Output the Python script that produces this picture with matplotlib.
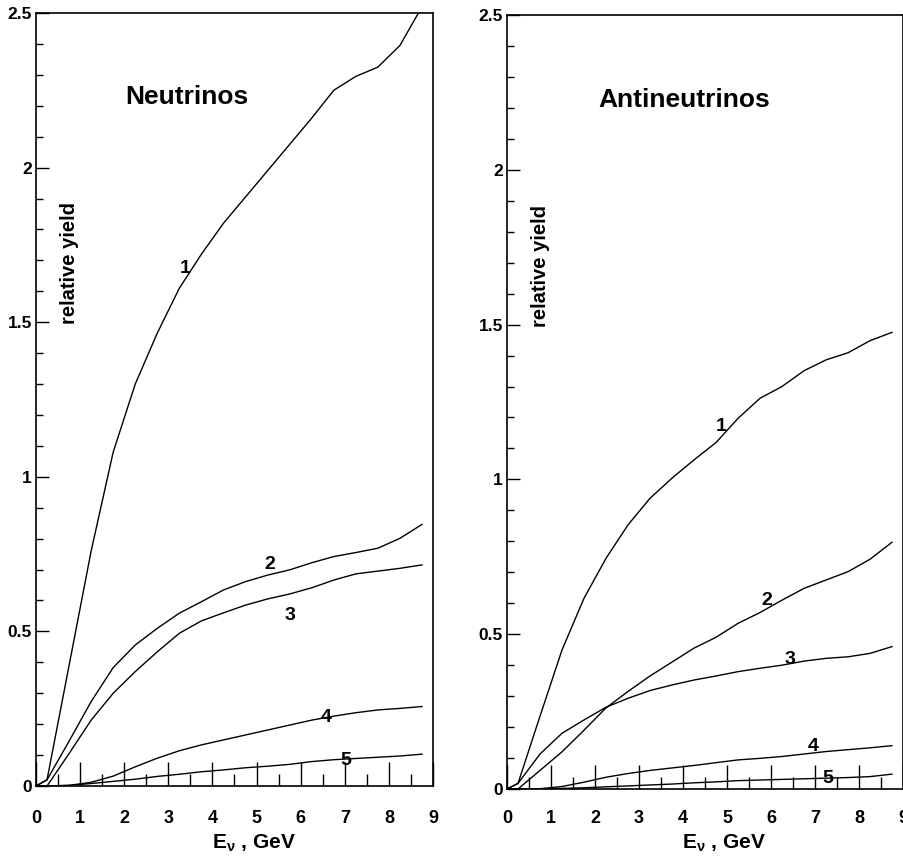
import matplotlib
matplotlib.use("Agg")
import matplotlib.pyplot as plt
from matplotlib.ticker import MultipleLocator, FixedLocator

plt.rcParams['font.family'] = ['Liberation Sans', 'DejaVu Sans']
plt.rcParams['font.weight'] = 'bold'
plt.rcParams['mathtext.default'] = 'regular'

# ---- data ----
energy = [0, 0.25, 0.75, 1.25, 1.75, 2.25, 2.75, 3.25, 3.75, 4.25,
          4.75, 5.25, 5.75, 6.25, 6.75, 7.25, 7.75, 8.25, 8.75]

nu_1 = [0, 0.02, 0.39, 0.76, 1.08, 1.30, 1.465, 1.61, 1.72, 1.82,
        1.905, 1.99, 2.075, 2.16, 2.25, 2.295, 2.325, 2.395, 2.52]
nu_2 = [0, 0.02, 0.145, 0.273, 0.383, 0.456, 0.51, 0.559, 0.596, 0.634,
        0.661, 0.682, 0.699, 0.722, 0.742, 0.755, 0.769, 0.801, 0.846]
nu_3 = [0, 0, 0.105, 0.213, 0.30, 0.37, 0.434, 0.494, 0.534, 0.56,
        0.585, 0.605, 0.621, 0.641, 0.666, 0.686, 0.695, 0.704, 0.715]
nu_4 = [0, 0, 0.002, 0.012, 0.032, 0.062, 0.09, 0.114, 0.133, 0.149,
        0.165, 0.181, 0.197, 0.213, 0.226, 0.237, 0.246, 0.251, 0.257]
nu_5 = [0, 0, 0.002, 0.008, 0.015, 0.022, 0.031, 0.038, 0.046, 0.052,
        0.059, 0.064, 0.07, 0.079, 0.085, 0.089, 0.093, 0.097, 0.103]

anu_1 = [0, 0.018, 0.235, 0.449, 0.616, 0.745, 0.853, 0.939, 1.004, 1.063,
         1.119, 1.197, 1.262, 1.30, 1.351, 1.386, 1.409, 1.448, 1.475]
anu_2 = [0, 0, 0.06, 0.12, 0.19, 0.262, 0.315, 0.365, 0.41, 0.455,
         0.49, 0.535, 0.57, 0.61, 0.648, 0.675, 0.702, 0.742, 0.797]
anu_3 = [0, 0.018, 0.113, 0.18, 0.223, 0.264, 0.293, 0.318, 0.336, 0.352,
         0.365, 0.379, 0.39, 0.40, 0.413, 0.422, 0.427, 0.438, 0.46]
anu_4 = [0, 0, 0.001, 0.008, 0.022, 0.038, 0.05, 0.06, 0.068, 0.076,
         0.085, 0.094, 0.099, 0.105, 0.113, 0.121, 0.127, 0.133, 0.14]
anu_5 = [0, 0, 0, 0.002, 0.004, 0.007, 0.01, 0.013, 0.016, 0.02,
         0.023, 0.027, 0.029, 0.031, 0.033, 0.035, 0.037, 0.04, 0.048]

curve_names = ['1', '2', '3', '4', '5']
nu_label_pos = [(3.38, 1.675), (5.31, 0.715), (5.76, 0.553), (6.58, 0.22), (7.03, 0.084)]
anu_label_pos = [(4.86, 1.17), (5.9, 0.61), (6.42, 0.417), (6.96, 0.137), (7.3, 0.035)]

x_ticks = [0, 1, 2, 3, 4, 5, 6, 7, 8, 9]
y_ticks = [0, 0.5, 1, 1.5, 2, 2.5]
y_ticklabels = ['0', '0.5', '1', '1.5', '2', '2.5']

W, H = 904, 864
fig = plt.figure(figsize=(W / 100, H / 100), dpi=100)

panels = [
    dict(rect=(36, 13, 433, 786), series=[nu_1, nu_2, nu_3, nu_4, nu_5],
         labels=nu_label_pos, title='Neutrinos', title_pos=(3.42, 2.227),
         xpad=17),
    dict(rect=(507, 15, 903, 789), series=[anu_1, anu_2, anu_3, anu_4, anu_5],
         labels=anu_label_pos, title='Antineutrinos', title_pos=(4.02, 2.227),
         xpad=15),
]

for p in panels:
    x0, y0, x1, y1 = p['rect']
    ax = fig.add_axes([x0 / W, 1 - y1 / H, (x1 - x0) / W, (y1 - y0) / H])
    for ys in p['series']:
        ax.plot(energy, ys, color='black', lw=1.0, clip_on=True)
    for name, (lx, ly) in zip(curve_names, p['labels']):
        ax.text(lx, ly, name, fontsize=14, fontweight='bold',
                ha='center', va='center')
    ax.text(p['title_pos'][0], p['title_pos'][1], p['title'], fontsize=19,
            fontweight='bold', ha='center', va='center')
    ax.text(0.76, 1.69, 'relative yield', rotation=90, fontsize=14.5,
            fontweight='bold', ha='center', va='center')
    ax.set_xlim(0, 9)
    ax.set_ylim(0, 2.5)
    ax.xaxis.set_major_locator(FixedLocator(x_ticks))
    ax.xaxis.set_minor_locator(MultipleLocator(0.5))
    ax.yaxis.set_major_locator(FixedLocator(y_ticks))
    ax.set_yticklabels(y_ticklabels)
    ax.yaxis.set_minor_locator(MultipleLocator(0.1))
    ax.tick_params(axis='x', which='major', direction='in', length=17,
                   width=1.0, labelsize=13, pad=p['xpad'])
    ax.tick_params(axis='x', which='minor', direction='in', length=9, width=1.0)
    ax.tick_params(axis='y', which='major', direction='in', length=9,
                   width=1.0, labelsize=12.5, pad=3)
    ax.tick_params(axis='y', which='minor', direction='in', length=5, width=1.0)
    for lab in ax.get_xticklabels() + ax.get_yticklabels():
        lab.set_fontweight('bold')
    for s in ax.spines.values():
        s.set_linewidth(1.2)
    ax.set_xlabel('E$_{ν}$ , GeV', fontsize=15, fontweight='bold')
    ax.xaxis.set_label_coords((x0 + (x1 - x0) / 2 + 19 - x0) / (x1 - x0),
                              -(843 - y1) / (y1 - y0))
    ax.xaxis.label.set_va('center')

fig.savefig('out.png', dpi=100)
